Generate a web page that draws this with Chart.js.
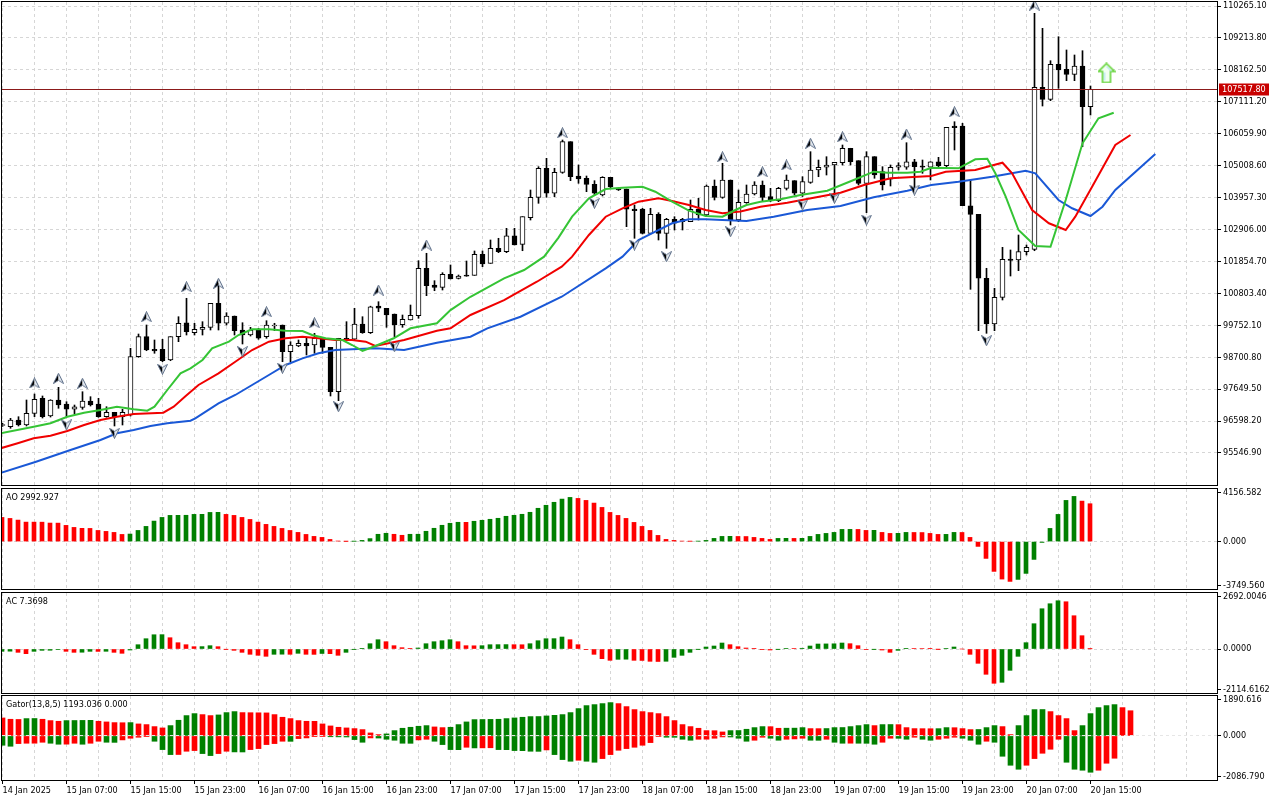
<!DOCTYPE html>
<html><head><meta charset="utf-8">
<script src="https://cdn.jsdelivr.net/npm/chart.js@4.4.1/dist/chart.umd.min.js"></script>
<style>
html,body{margin:0;padding:0;background:#fff;}
#wrap{position:relative;width:1280px;height:800px;overflow:hidden;background:#fff;}
canvas{position:absolute;left:0;}
</style></head><body>
<div id="wrap">
<canvas id="cMain" width="1280" height="487" style="top:0px"></canvas>
<canvas id="cAO" width="1280" height="104" style="top:487px"></canvas>
<canvas id="cAC" width="1280" height="103" style="top:591px"></canvas>
<canvas id="cGator" width="1280" height="107" style="top:693px"></canvas>
</div>
<script>
// ---------------- DATA (BTCUSD H1, 14 Jan 23:00 .. 20 Jan 15:00) ----------------
const xLabels = ['14 Jan 2025','15 Jan 07:00','15 Jan 15:00','15 Jan 23:00','16 Jan 07:00','16 Jan 15:00','16 Jan 23:00','17 Jan 07:00','17 Jan 15:00','17 Jan 23:00','18 Jan 07:00','18 Jan 15:00','18 Jan 23:00','19 Jan 07:00','19 Jan 15:00','19 Jan 23:00','20 Jan 07:00','20 Jan 15:00'];

const opens = [96450,96412,96632,96468,96853,97347,96764,97291,97159,96985,97050,97258,97159,96741,96886,96741,96797,98717,99376,98960,98960,98608,99376,99836,99507,99619,99685,100475,99817,100057,99596,99431,99596,99376,99728,99761,98882,99069,99158,99102,99323,99026,97564,99323,99290,99794,99507,100386,100311,100123,99771,99925,100067,101628,101078,101002,101430,101298,101407,101397,102089,101792,102286,102175,102701,102418,103294,103966,104921,104098,104789,105797,104667,104592,104394,104042,104625,104249,104239,103581,103581,102780,103406,102780,103241,103241,103162,103571,103383,104338,103966,104536,103218,103789,104075,104371,103986,103854,104262,104513,104098,104459,104865,104954,105030,105105,105580,105171,104427,105303,104809,104559,104954,104954,105138,104994,104954,105138,105007,106314,106314,103689,103406,101299,99794,100673,101934,101901,102175,102253,107588,107193,108346,108181,108016,108289,106949];
const highs = [96520,96688,96741,97291,97489,97423,97300,97709,97235,97126,97564,97400,97347,97070,96886,96985,98993,99464,99761,99267,99290,99376,100034,100640,99817,99870,100475,101134,100166,100057,99836,99685,99652,99902,99817,99761,99211,99267,99323,99487,99323,99026,99323,99870,100311,100034,100380,100528,100311,100123,100090,100419,101878,102122,101220,101483,101737,101407,101868,102198,102198,102560,102616,102945,102945,103327,104206,104974,105250,104921,105853,105797,105030,104667,104513,104645,104625,104270,104239,103712,103604,103604,103459,103274,103327,103274,103877,103933,104371,104536,105086,104536,104206,104371,104480,104503,104262,104295,104700,104513,104644,105468,105194,105303,105119,105688,105580,105171,105468,105303,104974,105030,105105,105764,105217,105194,105138,105283,106271,106455,106403,104536,103406,101628,100969,102319,102231,102724,102395,110025,109531,108464,109254,108817,108652,108793,107631];
const lows = [96420,96359,96435,96435,96741,96698,96730,97018,96741,96830,96985,97093,96722,96722,96435,96468,96764,98697,98914,98829,98552,98585,99211,99431,99431,99431,99596,99596,99761,99431,99135,99398,99290,99323,99573,98552,98552,99045,98773,98829,98829,97423,97268,99267,99267,99487,99480,100199,99685,99376,99685,99925,99981,100726,100890,100913,101276,101276,101365,101397,101681,101792,102142,102142,102395,102207,103218,103768,103966,103986,104756,104513,104427,104151,104042,104009,104262,104190,102998,102616,102757,102757,102560,102286,102889,102889,103162,103218,103327,103877,103933,103054,103162,103768,104042,103821,103821,103821,104206,104042,103992,104426,104644,104700,104042,105030,105030,104371,103459,104592,104206,104338,104865,104888,104262,104756,104536,104974,104974,105524,103689,100936,99573,99487,99573,100584,101374,101549,102066,102207,106972,107147,107555,107806,107806,105632,106676];
const closes = [96480,96632,96468,96853,97314,96741,97291,97126,96985,97070,97258,97126,96741,96886,96741,96886,98717,99376,98937,98905,98585,99376,99817,99540,99619,99685,100475,99817,100057,99573,99431,99596,99323,99761,99761,98882,99102,99158,99069,99323,99026,97564,99323,99267,99794,99507,100363,100311,100090,99761,99948,100080,101628,101055,101002,101430,101276,101374,101365,102089,101769,102286,102175,102701,102395,103327,103966,104921,104098,104789,105797,104644,104569,104394,104098,104625,104315,104206,103571,103525,102780,103406,102780,103241,103110,103162,103571,103383,104338,103966,104536,103218,103801,104075,104371,103966,103854,104262,104536,104098,104480,104865,104954,105030,105119,105580,105138,104427,105303,104700,104371,104954,105007,105138,104974,104954,105138,105007,106271,106258,103689,103406,101299,99794,100673,101924,101891,102175,102319,107588,107193,108346,108158,108016,108289,106949,107517.8];
const lastPrice = 107517.80;

// Alligator (read at sample points: bar position, price)
const lipsIdx = [-0.25,3.9,6,8.1,10.2,12.25,14.3,16.4,18.1,19,20.6,22.25,23.5,25,26.2,28.3,29.5,31.2,33.3,35.4,37.5,38.7,40.4,42.5,43.7,45,46.6,48.9,51,54.3,56,58.5,62.7,65.2,67.7,69.5,71.2,73.3,75.4,77.5,80,81.6,83.7,85.8,87.9,90,91.6,93,94.75,97.25,99.75,103.1,106.4,108.9,110.6,113.1,114.75,116.1,119.5,121.6,123.1,124.1,125.4,127,129.1,131,132.9,135,137,138.9];
const lipsVal = [96194,96412,96524,96741,96873,96962,97070,96985,96938,97070,97620,98170,98335,98608,98993,99211,99431,99619,99619,99573,99563,99431,99323,99267,99102,98905,99069,99323,99652,99817,100253,100691,101297,101572,102010,102640,103327,103933,104239,104282,104315,104150,103821,103525,103350,103327,103548,103712,103821,103900,104042,104183,104536,104809,104776,104776,104809,104941,104921,105217,105237,104756,103986,102889,102362,102339,103877,105744,106567,106752];
const teethIdx = [-0.25,1.9,3.9,6,8.1,10.2,12.25,14.3,16.4,20.1,21.4,22.9,24.5,27,29.1,31.2,33.3,35.4,37.5,39.5,41.6,43.7,45.4,46.6,50.2,54.3,56,58.5,62.7,66.8,69.9,71.2,73.3,75.4,77.5,79.5,82,83.7,85.8,87.9,90,92.25,94.75,98.1,101.4,104.75,107.7,111,116.1,117.9,121.6,125,126.2,128.7,130.8,132.9,134.1,136.2,139.1,141];
const teethVal = [95700,95864,96029,96115,96270,96468,96632,96741,96830,96873,97070,97423,97785,98170,98552,98937,99211,99323,99376,99323,99267,99267,99211,99069,99267,99573,99652,100090,100582,101185,101681,102010,102724,103327,103604,103821,103933,103844,103712,103548,103439,103500,103656,103788,103953,104117,104371,104592,104667,104809,104865,105105,104756,103548,103110,102889,103327,104315,105690,106018];
const jawIdx = [-0.25,4.1,8.5,12.25,14.3,16.4,18.5,20.6,23.5,24.1,27,29.1,31.2,33.3,35.4,37.5,39.5,41.6,43.7,46.6,50.2,54.3,58.5,60.6,64.75,69.9,75.4,77.5,79.5,81.6,83.7,85.8,87.9,90,93,96.4,100.6,104.75,108.9,113.1,116.1,119.5,123.7,127.9,129.1,132,133.7,136,137.5,139.1,144.1];
const jawVal = [94887,95250,95645,95974,96194,96303,96435,96524,96610,96688,97182,97456,97785,98114,98444,98663,98829,98937,98960,98993,98937,99178,99376,99652,100034,100691,101628,102010,102560,102833,103110,103241,103241,103218,103185,103327,103548,103679,103966,104183,104371,104480,104644,104842,104756,103877,103604,103350,103656,104206,105391];

// Fractal markers (bar, marker price)
const fracUpIdx = [4,7,10,18,23,27,33,39,47,53,70,90,95,98,101,105,113,119,129];
const fracUpPrice = [97851,98006,97841,100034,101022,101134,100199,99836,100913,102395,106093,105303,104809,105030,105744,105961,106050,106785,110298];
const fracDnIdx = [8,14,20,30,35,42,49,74,79,83,91,100,104,108,114,123];
const fracDnPrice = [96468,96194,98302,98882,98335,97070,99046,103768,102395,102010,102833,103712,103933,103218,104206,99244];
const signalIdx = [138];
const signalPrice = [108060];

const priceTicks = [95546.90,96598.20,97649.50,98700.80,99752.10,100803.40,101854.70,102906.00,103957.30,105008.60,106059.90,107111.20,108162.50,109213.80,110265.10];

// Awesome Oscillator
const aoValues = [1910,1830,1700,1540,1538,1535,1465,1460,1280,1120,1045,1040,880,805,725,565,595,880,1200,1620,1910,2070,2075,2080,2150,2155,2305,2310,2150,2070,1910,1750,1540,1360,1200,1040,880,725,565,410,330,170,45,10,20,93,235,577,656,577,498,577,580,814,1052,1289,1447,1526,1520,1605,1684,1763,1842,2000,2079,2158,2316,2633,2870,3107,3360,3492,3413,3255,3044,2701,2306,2069,1832,1516,1199,883,488,172,93,40,20,30,93,251,409,415,405,400,330,251,172,251,255,250,256,409,567,646,725,962,965,960,883,890,725,646,650,725,720,715,646,567,570,725,720,330,-382,-1331,-2358,-2965,-3149,-2991,-2516,-1410,-66,1041,2148,3255,3571,3200,2993];
const aoAxis = [4156.582, 0, -3749.560];
// Accelerator Oscillator
const acValues = [-112,-105,-160,-224,-112,-64,-60,-20,-112,-160,-155,-112,-115,-110,-160,-207,-48,207,495,686,690,543,303,207,112,115,160,112,-10,-64,-160,-255,-303,-351,-255,-250,-255,-207,-255,-258,-215,-225,-303,-160,-12,32,255,447,351,160,64,16,48,255,351,399,447,351,160,155,160,207,210,212,208,205,255,399,495,498,576,448,208,-32,-256,-464,-544,-496,-490,-544,-550,-592,-600,-590,-400,-304,-160,-10,96,144,288,208,112,48,16,-16,-48,-10,30,20,35,144,240,245,250,288,256,160,-16,-10,-48,-160,-64,32,28,25,16,-5,30,96,0,-256,-688,-1216,-1648,-1600,-1024,-352,304,1216,1936,2176,2320,2272,1600,640,7.3698];
const acAxis = [2692.0046, 0, -2114.6162];
// Gator Oscillator
const gatorUp = [852,789,780,821,825,789,726,694,726,730,735,738,694,663,631,625,631,568,537,442,379,489,742,963,1057,1010,963,994,1105,1152,1105,1100,1095,1090,1010,884,821,726,694,690,568,473,410,379,347,300,142,63,95,252,363,410,458,489,426,394,410,537,663,773,778,783,789,821,852,884,915,918,947,975,1010,1105,1294,1436,1483,1531,1578,1531,1389,1247,1152,1105,1057,915,726,537,442,363,252,248,189,252,256,316,394,442,438,363,366,369,394,347,345,350,394,398,442,489,537,489,537,540,535,394,347,344,341,345,394,390,347,300,305,394,489,442,63,489,963,1247,1250,1152,963,821,252,489,1057,1341,1436,1483,1341,1193.036];
const gatorDown = [-442,-489,-363,-347,-345,-300,-347,-394,-390,-347,-394,-347,-252,-300,-305,-189,-110,-63,-32,-252,-647,-884,-880,-726,-694,-836,-931,-836,-726,-757,-760,-647,-600,-410,-363,-252,-256,-126,-95,-32,-30,-40,-45,-50,-173,-300,-95,-100,-158,-205,-347,-350,-189,-158,-252,-410,-647,-650,-537,-568,-565,-560,-647,-650,-694,-697,-726,-730,-663,-884,-1120,-1199,-1152,-1199,-1247,-1073,-884,-679,-600,-537,-442,-316,-16,-63,-66,-158,-205,-158,-155,-110,-47,-50,-110,-252,-205,-63,-110,-205,-158,-142,-110,-205,-208,-158,-300,-347,-345,-347,-350,-394,-300,-110,-113,-158,-63,-158,-205,-158,-110,-63,-110,-205,-394,-252,-300,-963,-1389,-1578,-1389,-1073,-821,-631,-158,-1247,-1578,-1625,-1720,-1625,-1294,-1057];
const gatorAxis = [1890.616, 0, -2086.790];

const aoTitle = 'AO 2992.927';
const acTitle = 'AC 7.3698';
const gatorTitle = 'Gator(13,8,5) 1193.036 0.000';

// ---------------- STYLE / LAYOUT ----------------
const FONT = {family: '"DejaVu Sans Condensed","Liberation Sans",Arial,sans-serif', size: 9};
const FONT_STR = '9px "DejaVu Sans Condensed","Liberation Sans",Arial,sans-serif';
const GRID = '#d6d6d6';
const GREEN = '#008000', RED = '#ff0000';
const PLOT_W = 1215;
const PX_PER_BAR = 8;
const gridTicks = [];
for (let v = 0; v <= 148; v += 4) gridTicks.push(v);

function makeX(xmin, showLabels) {
  return {
    type: 'linear', min: xmin, max: xmin + PLOT_W / PX_PER_BAR, offset: false, position: 'bottom',
    afterBuildTicks(s) { s.ticks = gridTicks.map(v => ({value: v})); },
    afterFit(s) { s.height = showLabels ? 20 : 0; s.paddingLeft = 0; s.paddingRight = 0; },
    ticks: {
      display: showLabels, autoSkip: false, maxRotation: 0, minRotation: 0, align: 'start', padding: 1,
      color: '#000', font: FONT,
      callback(v) { return (v % 8 === 0 && v / 8 < xLabels.length) ? xLabels[v / 8] : ''; }
    },
    grid: {
      offset: false, color: GRID, lineWidth: 1, drawTicks: showLabels, tickLength: 4,
      tickColor: c => (c.tick && c.tick.value % 8 === 0 && c.tick.value / 8 < xLabels.length) ? '#000' : 'rgba(0,0,0,0)'
    },
    border: {display: false, dash: [3, 3]}
  };
}

function makeY(min, max, tickVals, labelTexts, zeroOnly, gridZ) {
  return {
    position: 'right', min, max, beginAtZero: false,
    afterFit(s) { s.width = 63; s.paddingTop = 0; s.paddingBottom = 0; },
    afterBuildTicks(s) { s.ticks = tickVals.map(v => ({value: v})); },
    ticks: {autoSkip: false, padding: 2, color: '#000', font: FONT, callback: (v, i) => labelTexts[i]},
    grid: {
      drawOnChartArea: true, drawTicks: true, tickLength: 4, tickColor: '#000', lineWidth: 1, z: gridZ || 0,
      color: c => zeroOnly ? ((c.tick && c.tick.value === 0) ? (gridZ ? '#e4e4e4' : GRID) : 'rgba(0,0,0,0)') : GRID
    },
    border: {display: false, dash: [3, 3]}
  };
}

function indicatorY(axis, decimals, areaPx) {
  const [mx, zero, mn] = axis;
  const inset = (mx - mn) * 3.5 / areaPx;
  return makeY(mn, mx, [mx - inset, zero, mn + inset], axis.map(v => v.toFixed(decimals)), true, 0);
}

const framePlugin = {
  id: 'frame',
  afterDraw(chart) {
    const {ctx, chartArea: a} = chart;
    ctx.save();
    ctx.strokeStyle = '#000'; ctx.lineWidth = 1;
    ctx.strokeRect(Math.round(a.left) - 0.5, Math.round(a.top) - 0.5, Math.round(a.right - a.left) + 1, Math.round(a.bottom - a.top) + 1);
    const t = chart.options.plugins.panelTitle && chart.options.plugins.panelTitle.text;
    if (t) {
      ctx.fillStyle = '#000'; ctx.font = FONT_STR; ctx.textBaseline = 'middle'; ctx.textAlign = 'left';
      ctx.fillText(t, 6, a.top + 8.5);
    }
    ctx.restore();
  }
};

const lastPricePlugin = {
  id: 'lastPrice',
  afterDraw(chart) {
    const {ctx, chartArea: a} = chart;
    const y = Math.round(chart.scales.y.getPixelForValue(lastPrice)) + 0.5;
    ctx.save();
    ctx.strokeStyle = '#8c1a1a'; ctx.lineWidth = 1;
    ctx.beginPath(); ctx.moveTo(a.left, y); ctx.lineTo(a.right, y); ctx.stroke();
    ctx.fillStyle = '#c80000';
    ctx.fillRect(a.right + 2, y - 6, 50, 12);
    ctx.fillStyle = '#fff'; ctx.font = FONT_STR; ctx.textBaseline = 'middle'; ctx.textAlign = 'left';
    ctx.fillText(lastPrice.toFixed(2), a.right + 5, y);
    ctx.restore();
  }
};

function fractalImg(up) {
  const c = document.createElement('canvas'); c.width = 11; c.height = 11;
  const g = c.getContext('2d');
  if (!up) { g.translate(0, 11); g.scale(1, -1); }
  g.beginPath(); g.moveTo(5.5, 0.5); g.lineTo(5.5, 7.5); g.lineTo(0.5, 10.5); g.closePath();
  g.fillStyle = '#000'; g.fill();
  g.beginPath(); g.moveTo(5.5, 0.5); g.lineTo(10.5, 10.5); g.lineTo(5.5, 7.5); g.closePath();
  g.fillStyle = '#e4e9f0'; g.fill();
  g.beginPath(); g.moveTo(5.5, 0.5); g.lineTo(10.5, 10.5); g.lineTo(5.5, 7.5); g.lineTo(0.5, 10.5); g.closePath();
  g.strokeStyle = '#5f708a'; g.lineWidth = 1; g.stroke();
  return c;
}
function signalImg() {
  const c = document.createElement('canvas'); c.width = 18; c.height = 21;
  const g = c.getContext('2d');
  g.beginPath();
  g.moveTo(9, 1); g.lineTo(17, 9); g.lineTo(13, 9); g.lineTo(13, 20); g.lineTo(5, 20); g.lineTo(5, 9); g.lineTo(1, 9); g.closePath();
  g.fillStyle = '#f2fff2'; g.fill();
  g.strokeStyle = '#66d43a'; g.lineWidth = 1.6; g.stroke();
  g.beginPath(); g.moveTo(9, 4); g.lineTo(14, 9); g.moveTo(7, 10); g.lineTo(7, 18);
  g.strokeStyle = '#9fdcf0'; g.lineWidth = 1; g.stroke();
  return c;
}

function diffColors(vals, firstColor, useAbs) {
  return vals.map((v, i) => {
    if (i === 0) return firstColor;
    const a = useAbs ? Math.abs(v) : v, b = useAbs ? Math.abs(vals[i - 1]) : vals[i - 1];
    return a > b ? GREEN : RED;
  });
}

const baseOpts = {
  responsive: false, animation: false, events: [],
  plugins: {legend: {display: false}, tooltip: {enabled: false}}
};

// ---------------- MAIN CHART ----------------
const X_MAIN = -0.0625;
const mainMax = 110397.1, mainMin = 94491.9;
const idx = opens.map((_, i) => i);
new Chart(document.getElementById('cMain'), {
  type: 'bar',
  data: {
    datasets: [
      {label: 'wick', data: idx.map(i => ({x: i, y: [lows[i], highs[i]]})), backgroundColor: '#000',
       barThickness: 1, grouped: false, order: 10},
      {label: 'body', data: idx.map(i => ({x: i, y: [opens[i], closes[i]]})),
       backgroundColor: idx.map(i => closes[i] >= opens[i] ? '#fff' : '#000'), borderColor: '#000',
       borderWidth: 1, borderSkipped: false, barThickness: 5, minBarLength: 1, grouped: false, order: 9},
      {type: 'line', label: 'Jaws', data: jawIdx.map((x, k) => ({x, y: jawVal[k]})), borderColor: '#1a58d6',
       borderWidth: 2, pointRadius: 0, tension: 0, order: 5},
      {type: 'line', label: 'Teeth', data: teethIdx.map((x, k) => ({x, y: teethVal[k]})), borderColor: '#f00000',
       borderWidth: 2, pointRadius: 0, tension: 0, order: 4},
      {type: 'line', label: 'Lips', data: lipsIdx.map((x, k) => ({x, y: lipsVal[k]})), borderColor: '#35c435',
       borderWidth: 2, pointRadius: 0, tension: 0, order: 3},
      {type: 'line', label: 'FracUp', data: fracUpIdx.map((x, k) => ({x, y: fracUpPrice[k]})), showLine: false,
       pointStyle: fractalImg(true), pointRadius: 5, order: 1},
      {type: 'line', label: 'FracDn', data: fracDnIdx.map((x, k) => ({x, y: fracDnPrice[k]})), showLine: false,
       pointStyle: fractalImg(false), pointRadius: 5, order: 1},
      {type: 'line', label: 'Signal', data: signalIdx.map((x, k) => ({x, y: signalPrice[k]})), showLine: false,
       pointStyle: signalImg(), pointRadius: 9, order: 0}
    ]
  },
  options: Object.assign({}, baseOpts, {
    layout: {autoPadding: false, padding: {left: 2, top: 2, bottom: 2, right: 0}},
    scales: {
      x: makeX(X_MAIN, false),
      y: makeY(mainMin, mainMax, priceTicks, priceTicks.map(v => v.toFixed(2)), false, 0)
    }
  }),
  plugins: [framePlugin, lastPricePlugin]
});

// ---------------- AO ----------------
new Chart(document.getElementById('cAO'), {
  type: 'bar',
  data: {datasets: [{data: aoValues.map((v, i) => ({x: i, y: v})), backgroundColor: diffColors(aoValues, RED, false),
    barThickness: 4, grouped: false}]},
  options: Object.assign({}, baseOpts, {
    layout: {autoPadding: false, padding: {left: 2, top: 2, bottom: 2, right: 0}},
    plugins: Object.assign({}, baseOpts.plugins, {panelTitle: {text: aoTitle}}),
    scales: {x: makeX(0, false), y: indicatorY(aoAxis, 3, 100)}
  }),
  plugins: [framePlugin]
});

// ---------------- AC ----------------
new Chart(document.getElementById('cAC'), {
  type: 'bar',
  data: {datasets: [{data: acValues.map((v, i) => ({x: i, y: v})), backgroundColor: diffColors(acValues, GREEN, false),
    barThickness: 4, grouped: false}]},
  options: Object.assign({}, baseOpts, {
    layout: {autoPadding: false, padding: {left: 2, top: 2, bottom: 1, right: 0}},
    plugins: Object.assign({}, baseOpts.plugins, {panelTitle: {text: acTitle}}),
    scales: {x: makeX(0, false), y: indicatorY(acAxis, 4, 100)}
  }),
  plugins: [framePlugin]
});

// ---------------- GATOR ----------------
const gY = indicatorY(gatorAxis, 3, 84);
gY.grid.z = 1;
gY.grid.color = c => (c.tick && c.tick.value === 0) ? '#e6e6e6' : 'rgba(0,0,0,0)';
new Chart(document.getElementById('cGator'), {
  type: 'bar',
  data: {datasets: [
    {data: gatorUp.map((v, i) => ({x: i, y: v})), backgroundColor: diffColors(gatorUp, RED, true), barThickness: 5, grouped: false},
    {data: gatorDown.map((v, i) => ({x: i, y: v})), backgroundColor: diffColors(gatorDown, GREEN, true), barThickness: 5, grouped: false}
  ]},
  options: Object.assign({}, baseOpts, {
    layout: {autoPadding: false, padding: {left: 2, top: 3, bottom: 0, right: 0}},
    plugins: Object.assign({}, baseOpts.plugins, {panelTitle: {text: gatorTitle}}),
    scales: {x: makeX(X_MAIN, true), y: gY}
  }),
  plugins: [framePlugin]
});
</script>
</body></html>
